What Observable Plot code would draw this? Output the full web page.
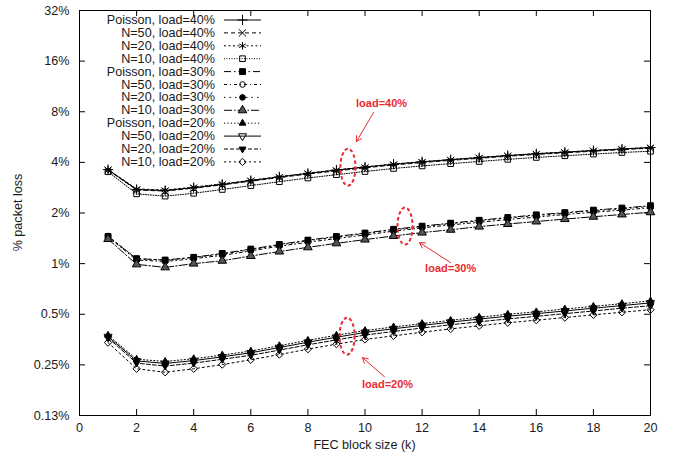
<!DOCTYPE html>
<html><head><meta charset="utf-8">
<script src="https://cdn.jsdelivr.net/npm/d3@7"></script>
<script src="https://cdn.jsdelivr.net/npm/@observablehq/plot@0.6"></script>
<style>
body{margin:0;background:#fff;}
svg{font-family:"Liberation Sans",Arial,sans-serif;}
</style>
</head><body><div id="chart"></div>
<script>
// ---------- data ----------
const k = [1,2,3,4,5,6,7,8,9,10,11,12,13,14,15,16,17,18,19,20];
const seriesNames = [
  "Poisson, load=40%","N=50, load=40%","N=20, load=40%","N=10, load=40%",
  "Poisson, load=30%","N=50, load=30%","N=20, load=30%","N=10, load=30%",
  "Poisson, load=20%","N=50, load=20%","N=20, load=20%","N=10, load=20%"
];
const poisson40 = [3.62,2.76,2.72,2.83,2.96,3.12,3.28,3.44,3.60,3.75,3.90,4.03,4.15,4.27,4.39,4.50,4.60,4.70,4.80,4.90];
const n50_40    = [3.60,2.74,2.70,2.81,2.94,3.09,3.25,3.41,3.56,3.71,3.86,3.99,4.11,4.23,4.35,4.46,4.56,4.66,4.76,4.86];
const n20_40    = [3.63,2.78,2.74,2.85,2.98,3.13,3.29,3.45,3.61,3.76,3.91,4.04,4.16,4.28,4.40,4.51,4.61,4.71,4.81,4.91];
const n10_40    = [3.52,2.60,2.52,2.62,2.76,2.91,3.07,3.23,3.38,3.53,3.68,3.81,3.93,4.05,4.17,4.28,4.38,4.48,4.58,4.66];
const poisson30 = [1.45,1.07,1.05,1.09,1.15,1.22,1.30,1.38,1.45,1.52,1.60,1.67,1.74,1.81,1.88,1.95,2.01,2.08,2.14,2.21];
const n50_30    = [1.44,1.05,1.03,1.07,1.12,1.19,1.27,1.34,1.41,1.48,1.56,1.63,1.70,1.76,1.83,1.89,1.96,2.02,2.08,2.15];
const n20_30    = [1.46,1.07,1.05,1.09,1.14,1.21,1.29,1.37,1.44,1.51,1.59,1.66,1.73,1.80,1.87,1.93,2.00,2.06,2.12,2.19];
const n10_30    = [1.40,0.99,0.95,1.00,1.04,1.11,1.18,1.25,1.32,1.39,1.46,1.53,1.59,1.66,1.72,1.78,1.84,1.90,1.96,2.02];
const poisson20 = [0.375,0.270,0.262,0.272,0.286,0.302,0.325,0.350,0.375,0.400,0.420,0.440,0.460,0.480,0.500,0.517,0.537,0.557,0.578,0.600];
const n50_20    = [0.368,0.264,0.255,0.265,0.279,0.295,0.317,0.341,0.365,0.390,0.410,0.429,0.449,0.468,0.487,0.504,0.523,0.543,0.563,0.584];
const n20_20    = [0.362,0.256,0.246,0.256,0.270,0.285,0.306,0.329,0.352,0.376,0.395,0.414,0.433,0.451,0.469,0.486,0.504,0.523,0.543,0.562];
const n10_20    = [0.339,0.237,0.226,0.237,0.251,0.268,0.288,0.310,0.332,0.354,0.372,0.391,0.409,0.427,0.445,0.461,0.478,0.496,0.514,0.532];
const seriesValues = [poisson40,n50_40,n20_40,n10_40,poisson30,n50_30,n20_30,n10_30,poisson20,n50_20,n20_20,n10_20];

const xTicks = [0,2,4,6,8,10,12,14,16,18,20];
const yTicks = [0.125,0.25,0.5,1,2,4,8,16,32];
const yTickLabels = ["0.13%","0.25%","0.5%","1%","2%","4%","8%","16%","32%"];
const xLabel = "FEC block size (k)";
const yLabel = "% packet loss";

// annotations (data units)
const annoLabels = ["load=40%","load=30%","load=20%"];
const annoEllipseX = [9.42, 11.42, 9.39];
const annoEllipseY = [3.72, 1.66, 0.368];
const annoTailX = [10.30, 13.0, 10.68];
const annoTailY = [7.92, 1.014, 0.2126];
const annoHeadX = [9.70, 11.91, 9.91];
const annoHeadY = [5.32, 1.333, 0.276];
const annoTextX = [10.58, 13.0, 10.79];
const annoTextY = [8.95, 0.934, 0.1906];

// ---------- styles ----------
const invTriangle = {
  draw(context, size) {
    const a = Math.sqrt(4 * size / Math.sqrt(3));
    const h = a * Math.sqrt(3) / 2;
    context.moveTo(0, 2 * h / 3);
    context.lineTo(a / 2, -h / 3);
    context.lineTo(-a / 2, -h / 3);
    context.closePath();
  }
};
const styles = [
  {dash: null,        symbol: d3.symbolPlus,     fill: "none", r: 3.4},
  {dash: "4,3",       symbol: d3.symbolTimes,    fill: "none", r: 3.4},
  {dash: "2,2.5",     symbol: d3.symbolAsterisk, fill: "none", r: 3.6},
  {dash: "1,1.5",     symbol: d3.symbolSquare2,  fill: "none", r: 3.6},
  {dash: "7,3,1.5,3", symbol: d3.symbolSquare,   fill: "#000", r: 3.3},
  {dash: "3,3,1,3",   symbol: d3.symbolCircle,   fill: "none", r: 2.8},
  {dash: "1.5,4",     symbol: d3.symbolCircle,   fill: "#000", r: 2.8},
  {dash: "8,2,1.5,2", symbol: d3.symbolTriangle, fill: "#555", r: 3.2},
  {dash: "1.2,2.2",   symbol: d3.symbolTriangle, fill: "#000", r: 2.5},
  {dash: null,        symbol: invTriangle,       fill: "none", r: 3.0},
  {dash: "4,2",       symbol: invTriangle,       fill: "#000", r: 2.5},
  {dash: "2,3",       symbol: d3.symbolDiamond2, fill: "none", r: 3.3}
];

// ---------- table ----------
const table = [];
seriesValues.forEach((vals, i) => vals.forEach((v, j) => table.push({series: seriesNames[i], idx: i, k: k[j], v})));

const W = 675, H = 461, mL = 79, mR = 25, mT = 10, mB = 46;
const frameW = W - mL - mR, frameH = H - mT - mB;
const RED = "#ea2a2f";
const FONT = "12.6px";
const yFmt = d => {
  const i = yTicks.findIndex(t => Math.abs(t - d) / t < 1e-6);
  return i >= 0 ? yTickLabels[i] : "";
};

const marks = [
  Plot.frame({stroke: "#000", strokeWidth: 1}),
  Plot.axisX({ticks: xTicks, tickSize: 0, tickPadding: 8, tickFormat: d => String(d), label: null, fill: "#1a1a1a"}),
  Plot.textY(yTicks, {y: d => d, frameAnchor: "left", dx: -10, textAnchor: "end", text: yFmt, fill: "#1a1a1a"}),
  Plot.tickX(xTicks, {x: d => d, insetTop: frameH - 6, stroke: "#000"}),
  Plot.tickX(xTicks, {x: d => d, insetBottom: frameH - 6, stroke: "#000"}),
  Plot.tickY(yTicks, {y: d => d, insetRight: frameW - 6, stroke: "#000"}),
  Plot.tickY(yTicks, {y: d => d, insetLeft: frameW - 6, stroke: "#000"})
];
seriesNames.forEach((name, i) => {
  const rows = table.filter(d => d.idx === i);
  const st = styles[i];
  marks.push(Plot.line(rows, {x: "k", y: "v", stroke: "#000", strokeWidth: 1, strokeDasharray: st.dash || undefined}));
});
seriesNames.forEach((name, i) => {
  const rows = table.filter(d => d.idx === i);
  const st = styles[i];
  marks.push(Plot.dot(rows, {x: "k", y: "v", symbol: () => st.symbol, r: st.r, stroke: "#000", strokeWidth: 1, fill: st.fill}));
});
const annoIdx = annoLabels.map((_, i) => i);
marks.push(Plot.arrow(annoIdx, {x1: i => annoTailX[i], y1: i => annoTailY[i], x2: i => annoHeadX[i], y2: i => annoHeadY[i], stroke: RED, strokeWidth: 1, headLength: 9, bend: false}));
marks.push(Plot.text(annoIdx, {x: i => annoTextX[i], y: i => annoTextY[i], text: i => annoLabels[i], fill: RED, fontWeight: "bold", fontSize: 11}));

const plot = Plot.plot({
  width: W, height: H,
  marginLeft: mL, marginRight: mR, marginTop: mT, marginBottom: mB,
  style: {fontFamily: '"Liberation Sans", Arial, sans-serif', fontSize: FONT, color: "#1a1a1a", background: "#fff", overflow: "visible"},
  x: {domain: [0, 20]},
  y: {type: "log", domain: [0.125, 32], axis: null},
  symbol: {type: "identity"},
  marks
});
document.getElementById("chart").appendChild(plot);

const svg = d3.select(plot);
const xs = plot.scale("x"), ys = plot.scale("y");

// dashed ellipses
annoIdx.forEach(i => {
  svg.append("ellipse")
    .attr("cx", xs.apply(annoEllipseX[i])).attr("cy", ys.apply(annoEllipseY[i]))
    .attr("rx", 7.5).attr("ry", 18.5)
    .attr("fill", "none").attr("stroke", RED).attr("stroke-width", 2).attr("stroke-dasharray", "3.5,2.5");
});

// axis titles
svg.append("text").attr("x", mL + frameW / 2).attr("y", H - 16)
  .attr("text-anchor", "middle").attr("dominant-baseline", "central")
  .attr("font-size", FONT).attr("fill", "#1a1a1a").text(xLabel);
svg.append("text").attr("transform", `translate(18,${mT + frameH / 2}) rotate(-90)`)
  .attr("text-anchor", "middle").attr("dominant-baseline", "central")
  .attr("font-size", FONT).attr("fill", "#1a1a1a").text(yLabel);

// legend
const lg = svg.append("g");
seriesNames.forEach((name, i) => {
  const y = 20 + i * 12.9;
  const st = styles[i];
  lg.append("text").attr("x", 215).attr("y", y).attr("text-anchor", "end")
    .attr("dominant-baseline", "central").attr("font-size", FONT).attr("fill", "#1a1a1a").text(name);
  lg.append("line").attr("x1", 224).attr("x2", 261).attr("y1", y).attr("y2", y)
    .attr("stroke", "#000").attr("stroke-width", 1).attr("stroke-dasharray", st.dash);
  lg.append("path").attr("transform", `translate(242.5,${y})`)
    .attr("d", d3.symbol(st.symbol, Math.PI * st.r * st.r)())
    .attr("fill", st.fill).attr("stroke", "#000").attr("stroke-width", 1);
});
</script>
</body></html>
